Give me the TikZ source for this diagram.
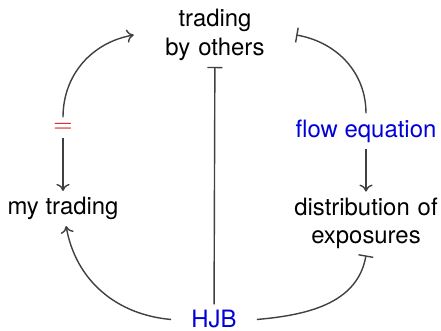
\documentclass[tikz,border=0pt]{standalone}
\usepackage{fontspec}
\setmainfont{TeX Gyre Heros}
\usetikzlibrary{arrows.meta}

\tikzset{
  quantity/.style={align=center, font=\fontsize{13.6}{16.3}\selectfont},
  wide/.style={quantity, text width=3cm},
  relation/.style={quantity, text=blue!85!black},
  link/.style={thick, black!75},
  feeds/.style={link, -{To[length=4pt, width=7.5pt]}},
  blocks/.style={link, -{Bar[width=8.5pt]}}
}

\begin{document}
\begin{tikzpicture}
  \useasboundingbox (0,0) rectangle (8.82,6.62);
  % the three quantities
  \node[wide] (others) at (4.30,5.92) {trading\\by others};
  \node[quantity] (mine) at (1.26,2.45) {my trading};
  \node[wide] (dist) at (7.32,2.15) {distribution of\\exposures};
  % equations linking them
  \node[quantity, text=red!85!black, inner sep=3pt] (eq) at (1.26,4.07) {$=$};
  \node[relation] (flow) at (7.32,4.00) {flow equation};
  \node[relation, inner xsep=0.4cm] (hjb) at (4.28,0.23) {HJB};

  \draw[feeds] (eq) to[out=90, in=190] (others.west);
  \draw[feeds] (eq) -- (mine);
  \draw[blocks] (flow) to[out=90, in=-10] (others.east);
  \draw[feeds] (flow) -- (dist);
  \draw[feeds] (hjb.west) to[out=175, in=-80] (mine);
  \draw[blocks] (hjb.east) to[out=5, in=-100] (dist.south);
  \draw[blocks] (hjb) -- (others);
\end{tikzpicture}
\end{document}
